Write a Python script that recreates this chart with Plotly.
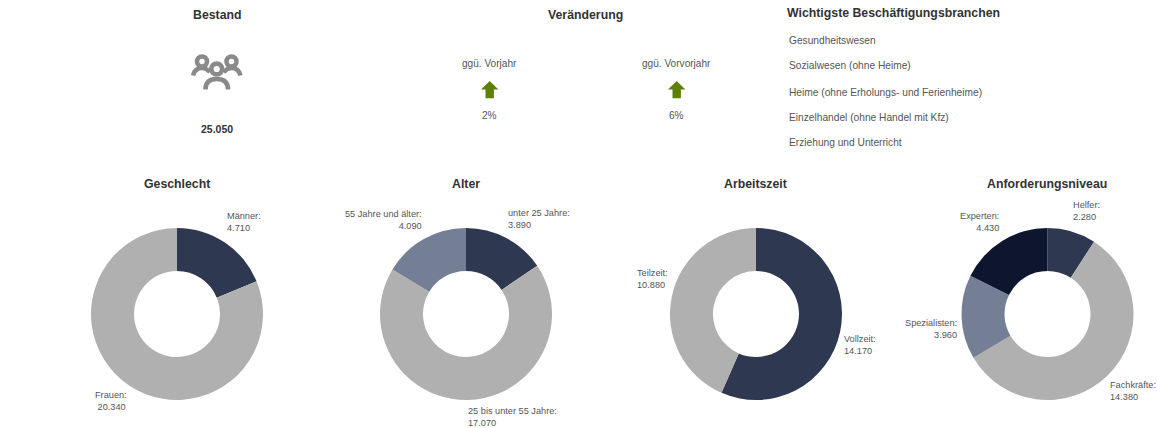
import plotly.graph_objects as go

W, H = 1157, 428
FONT = "Liberation Sans, Arial, sans-serif"
DARK, GREY, SLATE, NAVY = "#2e3850", "#b0b0b0", "#747e94", "#0e152e"

geschlecht_labels = ["Männer", "Frauen"]
geschlecht_values = [4710, 20340]
alter_labels = ["unter 25 Jahre", "25 bis unter 55 Jahre", "55 Jahre und älter"]
alter_values = [3890, 17070, 4090]
arbeitszeit_labels = ["Vollzeit", "Teilzeit"]
arbeitszeit_values = [14170, 10880]
niveau_labels = ["Helfer", "Fachkräfte", "Spezialisten", "Experten"]
niveau_values = [2280, 14380, 3960, 4430]
branchen = [
    "Gesundheitswesen",
    "Sozialwesen (ohne Heime)",
    "Heime (ohne Erholungs- und Ferienheime)",
    "Einzelhandel (ohne Handel mit Kfz)",
    "Erziehung und Unterricht",
]
bestand = "25.050"
veraenderung_labels = ["ggü. Vorjahr", "ggü. Vorvorjahr"]
veraenderung_values = ["2%", "6%"]


def px(x):
    return x / W


def py(y):
    return 1 - y / H


fig = go.Figure()
CY, R = 314, 86
pies = [
    (177, geschlecht_labels, geschlecht_values, [DARK, GREY]),
    (466, alter_labels, alter_values, [DARK, GREY, SLATE]),
    (756, arbeitszeit_labels, arbeitszeit_values, [DARK, GREY]),
    (1047.5, niveau_labels, niveau_values, [DARK, GREY, SLATE, NAVY]),
]
for cx, labels, values, colors in pies:
    fig.add_trace(go.Pie(
        labels=labels, values=values, hole=0.5, sort=False, direction="clockwise",
        rotation=0, textinfo="none", showlegend=False,
        marker=dict(colors=colors, line=dict(width=0)),
        domain=dict(x=[px(cx - R), px(cx + R)], y=[py(CY + R), py(CY - R)]),
    ))

ann = []


def text(x, y, s, size=10, color="#555555", anchor="center", bold=False, align=None):
    ann.append(dict(
        x=px(x), y=py(y), xref="paper", yref="paper", xanchor=anchor, yanchor="middle",
        text=f"<b>{s}</b>" if bold else s, showarrow=False, align=align or anchor,
        font=dict(family=FONT, size=size, color=color), borderpad=0, borderwidth=0,
    ))


TITLE = "#333333"
T = 12.3
text(217, 15, "Bestand", T, TITLE, bold=True)
text(585.5, 15, "Veränderung", T, TITLE, bold=True)
text(893, 13.5, "Wichtigste Beschäftigungsbranchen", T, TITLE, bold=True)
text(176.5, 184, "Geschlecht", T, TITLE, bold=True)
text(466, 184, "Alter", T, TITLE, bold=True)
text(755.5, 184, "Arbeitszeit", T, TITLE, bold=True)
text(1047, 184, "Anforderungsniveau", T, TITLE, bold=True)

text(217, 129, bestand, 10.5, "#333333", bold=True)
for cx, label, value in zip([489.5, 676], veraenderung_labels, veraenderung_values):
    text(cx, 63.5, label, 10.1)
    text(cx, 115.5, value, 10.1)
for y, b in zip([40, 66, 92, 117, 142.5], branchen):
    text(789, y, b, 10.2, anchor="left")

L = 9.2
text(227, 222, "Männer:<br>4.710", L, anchor="left")
text(95, 401, "Frauen:<br> 20.340", L, anchor="left")
text(422, 220, "55 Jahre und älter:<br>4.090", L, anchor="right")
text(508, 219, "unter 25 Jahre:<br>3.890", L, anchor="left")
text(468, 417, "25 bis unter 55 Jahre:<br>17.070", L, anchor="left")
text(637, 279, "Teilzeit:<br>10.880", L, anchor="left")
text(844, 345, "Vollzeit:<br>14.170", L, anchor="left")
text(1073, 211, "Helfer:<br>2.280", L, anchor="left")
text(999, 222, "Experten:<br>4.430", L, anchor="right")
text(957, 329, "Spezialisten:<br>3.960", L, anchor="right")
text(1110, 391, "Fachkräfte:<br>14.380", L, anchor="left")

shapes = []
ICON = "#8a8a8a"


def PS(x, y):
    return f"{px(x):.5f} {py(y):.5f}"


# Shoulders first, heads drawn over them
bodies = [
    f"M {PS(193, 75.5)} Q {PS(195, 68)} {PS(202, 68)} Q {PS(206, 68)} {PS(210, 72)}",
    f"M {PS(240.5, 75.5)} Q {PS(238.5, 68)} {PS(231.5, 68)} Q {PS(227.5, 68)} {PS(223.5, 72)}",
    f"M {PS(205.5, 89.5)} Q {PS(205.5, 79)} {PS(216.7, 79)} Q {PS(228, 79)} {PS(228, 89.5)}",
]
for d in bodies:
    shapes.append(dict(type="path", xref="paper", yref="paper", path=d,
                       line=dict(color=ICON, width=4.6)))
for cx, cy, r in [(202, 61.5, 5), (216.7, 69, 5.4), (231.5, 61.5, 5)]:
    shapes.append(dict(type="circle", xref="paper", yref="paper",
                       x0=px(cx - r), x1=px(cx + r), y0=py(cy + r), y1=py(cy - r),
                       line=dict(color=ICON, width=4.6), fillcolor="white"))
# Arrows
for cx in [489.7, 676.7]:
    d = "M " + " L ".join(PS(cx + a, b) for a, b in [
        (0, 81), (8.7, 89.5), (4.2, 89.5), (4.2, 98.2), (-4.2, 98.2), (-4.2, 89.5), (-8.7, 89.5)
    ]) + " Z"
    shapes.append(dict(type="path", xref="paper", yref="paper", path=d,
                       fillcolor="#5f8008", line=dict(width=0)))

fig.update_layout(
    width=W, height=H, autosize=False, margin=dict(l=0, r=0, t=0, b=0),
    paper_bgcolor="white", plot_bgcolor="white", annotations=ann, shapes=shapes,
    font=dict(family=FONT),
)
fig.write_html("out.html", config=dict(displayModeBar=False),
               post_script="document.body.style.margin='0';document.body.style.overflow='hidden';")
